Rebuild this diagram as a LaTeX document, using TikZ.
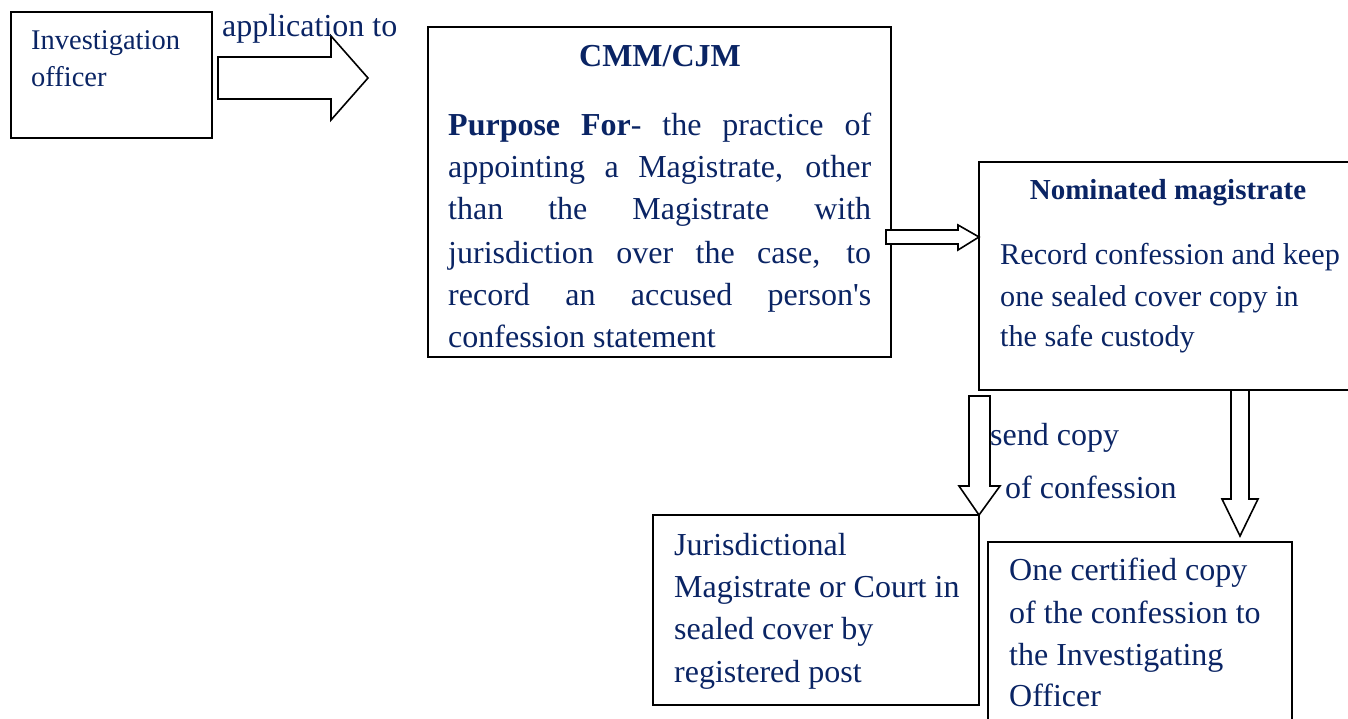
\documentclass[tikz,border=0pt]{standalone}
\usepackage{fontspec}
\setmainfont{Liberation Serif}
\definecolor{navy}{RGB}{10,36,100}
\tikzset{
  box/.style={draw=black, line width=1.6pt, inner sep=0pt, outer sep=0pt, anchor=north west, fill=none},
  blockarrow/.style={draw=black, line width=1.6pt, fill=white, line join=miter},
  txt/.style={anchor=base west, inner sep=0pt, text=navy, font=\fontsize{32}{38}\selectfont},
  txtsmall/.style={anchor=base west, inner sep=0pt, text=navy, font=\fontsize{28.5}{34}\selectfont},
  txtmid/.style={anchor=base west, inner sep=0pt, text=navy, font=\fontsize{30.2}{36}\selectfont},
  title/.style={anchor=base, inner sep=0pt, text=navy, font=\bfseries\fontsize{32}{38}\selectfont},
}
\newcommand{\jline}[1]{\makebox[423pt][s]{#1}}
\begin{document}
\begin{tikzpicture}[x=1pt,y=-1pt]
\useasboundingbox (0,0) rectangle (1348,719);
% boxes
\node[box, minimum width=201pt, minimum height=126pt] (inv) at (11,12) {};
\node[box, minimum width=463pt, minimum height=330pt] (cmm) at (428,27) {};
\node[box, minimum width=380pt, minimum height=228pt] (nom) at (979,162) {};
\node[box, minimum width=326pt, minimum height=190pt] (jur) at (653,515) {};
\node[box, minimum width=304pt, minimum height=190pt] (cert) at (988,542) {};
% block arrows
\coordinate (a1t) at (368,78);
\draw[blockarrow] (218,57) -- (331,57) -- (331,36) -- (a1t) -- (331,120) -- (331,99) -- (218,99) -- cycle;
\coordinate (a2t) at (979,237);
\draw[blockarrow] (886,230) -- (958,230) -- (958,225) -- (a2t) -- (958,250) -- (958,244) -- (886,244) -- cycle;
\coordinate (a3t) at (979,515);
\draw[blockarrow] (969,396) -- (969,486) -- (959,486) -- (a3t) -- (1000,486) -- (990,486) -- (990,396) -- cycle;
\coordinate (a4t) at (1240,536);
\draw[blockarrow] (1231,390) -- (1231,499) -- (1222,499) -- (a4t) -- (1258,499) -- (1249,499) -- (1249,390) -- cycle;
% texts
\node[txtsmall] (t1) at (31,50) {Investigation};
\node[txtsmall] (t2) at (31,87) {officer};
\node[txt] (lab1) at (222,37) {application to};
\node[title] (cmmt) at (660,67) {CMM/CJM};
\node[txt] (p1) at (448,136) {\jline{\textbf{Purpose For}- the practice of}};
\node[txt] (p2) at (448,178) {\jline{appointing a Magistrate, other}};
\node[txt] (p3) at (448,220) {\jline{than the Magistrate with}};
\node[txt] (p4) at (448,263) {\jline{jurisdiction over the case, to}};
\node[txt] (p5) at (448,305) {\jline{record an accused person\textquotesingle s}};
\node[txt] (p6) at (448,347) {confession statement};
\node[title, font=\bfseries\fontsize{29}{34}\selectfont] (nomt) at (1168,200) {Nominated magistrate};
\node[txtmid] (n1) at (1000,265) {Record confession and keep};
\node[txtmid] (n2) at (1000,306) {one sealed cover copy in};
\node[txtmid] (n3) at (1000,346) {the safe custody};
\node[txt] (s1) at (990,445) {send copy};
\node[txt] (s2) at (1005,498) {of confession};
\node[txt] (j1) at (674,555) {Jurisdictional};
\node[txt] (j2) at (674,597) {Magistrate or Court in};
\node[txt] (j3) at (674,639) {sealed cover by};
\node[txt] (j4) at (674,682) {registered post};
\node[txt] (c1) at (1009,580) {One certified copy};
\node[txt] (c2) at (1009,623) {of the confession to};
\node[txt] (c3) at (1009,665) {the Investigating};
\node[txt] (c4) at (1009,706) {Officer};
\end{tikzpicture}
\end{document}
